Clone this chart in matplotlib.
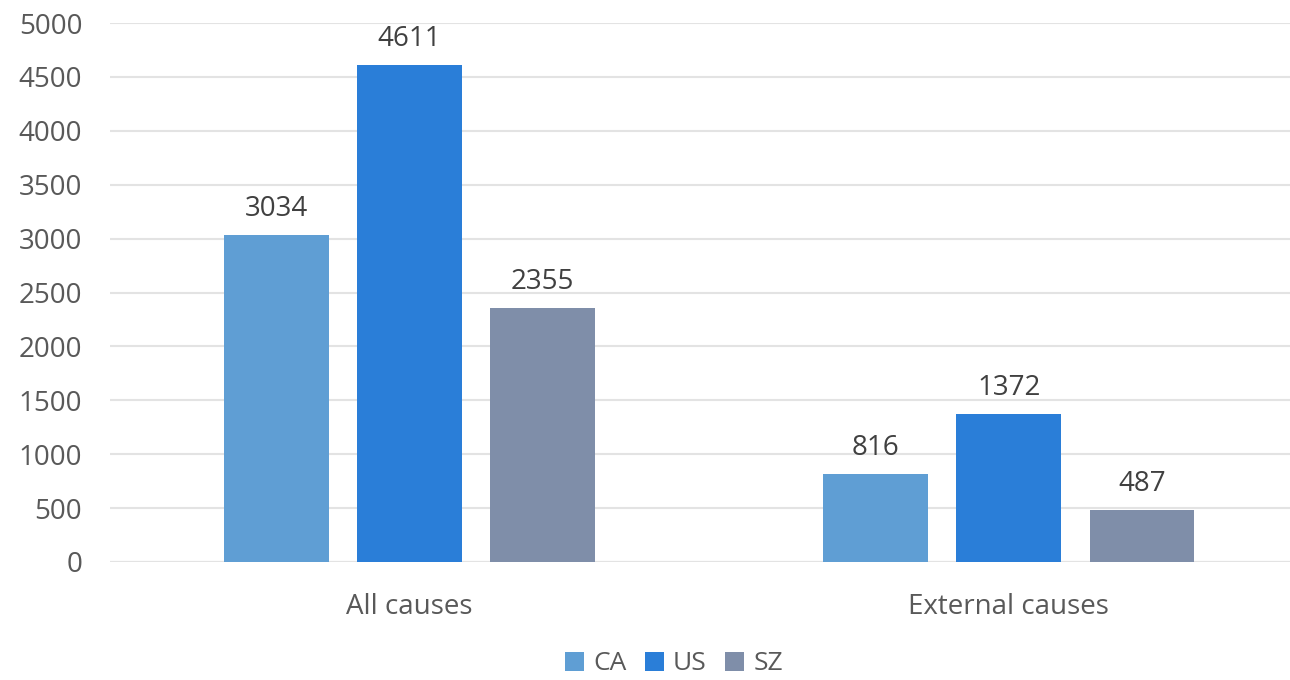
import numpy as np
import matplotlib.pyplot as plt

plt.rcParams['font.family'] = ['Open Sans', 'DejaVu Sans']

categories = ['All causes', 'External causes']
series = ['CA', 'US', 'SZ']
ca = [3034, 816]
us = [4611, 1372]
sz = [2355, 487]
colors = ['#5f9ed4', '#2a7ed8', '#7f8ea9']

fig = plt.figure(figsize=(12.9, 6.8), dpi=100)
ax = fig.add_axes([110 / 1290, 118 / 680, 1 - 110 / 1290, 539 / 680])

x = np.arange(len(categories))
width = 0.175
step = 0.222
text_color = '#595959'
fs = 20

for i, (name, vals) in enumerate(zip(series, [ca, us, sz])):
    bars = ax.bar(x + (i - 1) * step, vals, width, color=colors[i], label=name, zorder=2)
    for b, v in zip(bars, vals):
        ax.text(b.get_x() + b.get_width() / 2, v + 110, str(v), ha='center', va='bottom',
                fontsize=fs, color='#404040')

ax.set_ylim(0, 5000)
ax.set_xlim(-0.5, 1.469)
ax.set_yticks(range(0, 5001, 500))
ax.yaxis.grid(True, color='#e3e3e3', linewidth=1.5, zorder=0)
ax.set_xticks(x)
ax.set_xticklabels(categories)
ax.tick_params(axis='both', length=0, labelsize=fs, colors=text_color)
ax.tick_params(axis='x', pad=22)
ax.tick_params(axis='y', pad=20)
for s in ax.spines.values():
    s.set_visible(False)
ax.axhline(0, color='#d9d9d9', linewidth=1.5, zorder=1)

fig.legend(loc='center', bbox_to_anchor=(674 / 1290, 1 - 664 / 680), ncol=3, frameon=False,
           fontsize=19, handlelength=0.72, handleheight=0.72, handletextpad=0.35,
           columnspacing=0.7, labelcolor=text_color)

fig.savefig('out.png', dpi=100)
